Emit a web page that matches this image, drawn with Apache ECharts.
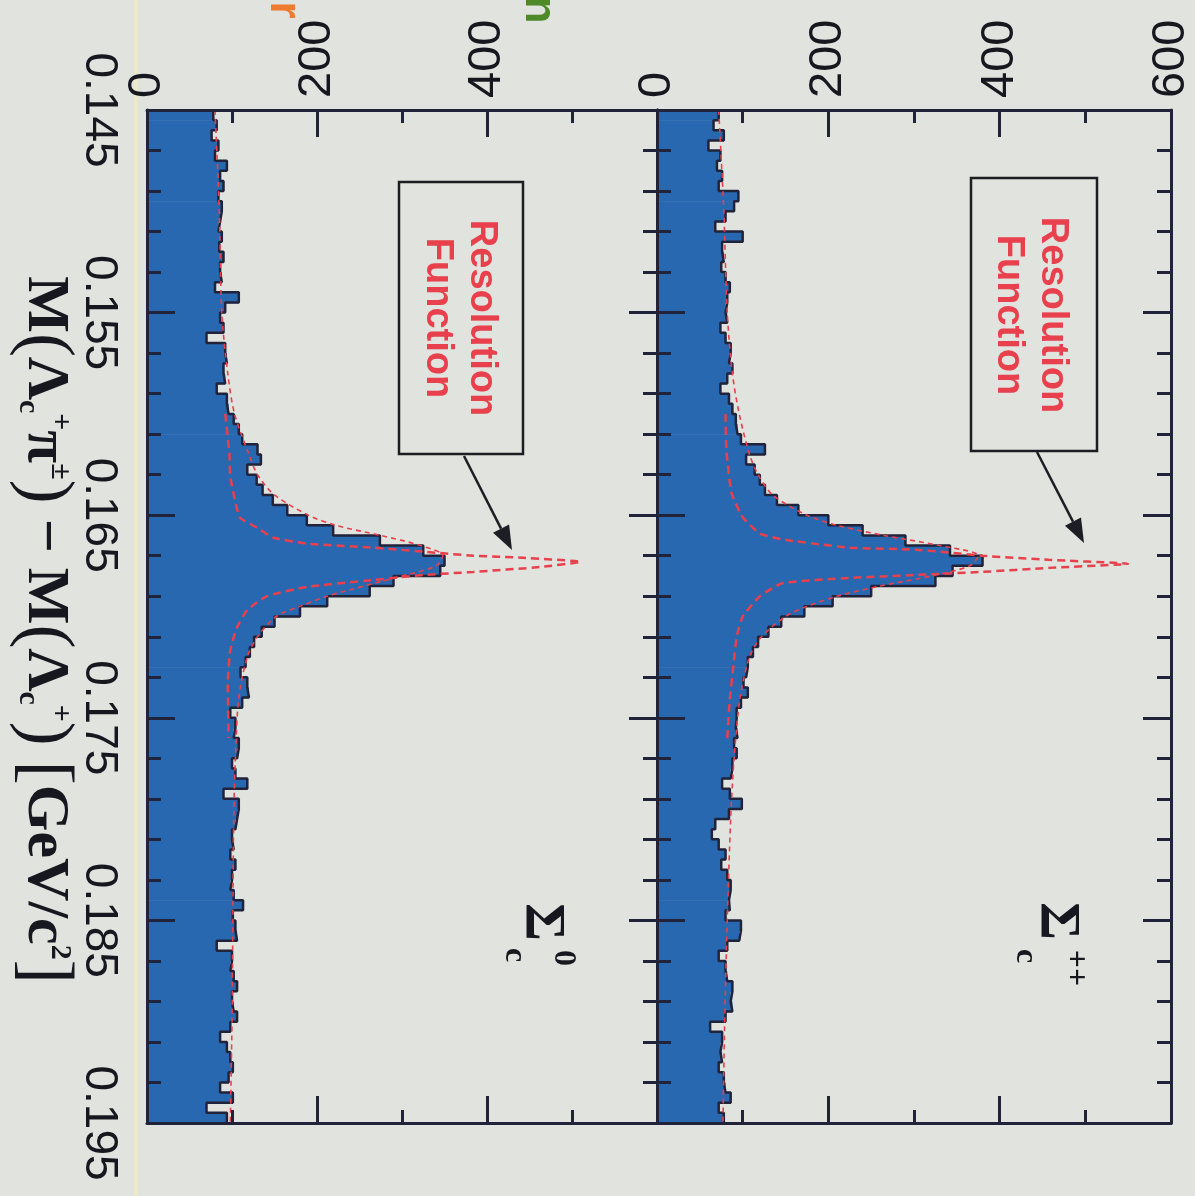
<!DOCTYPE html>
<html><head><meta charset="utf-8">
<script src="https://cdn.jsdelivr.net/npm/echarts@6/dist/echarts.min.js"></script>
<style>html,body{margin:0;padding:0;background:#e0e3de}#c{width:1195px;height:1196px}</style>
</head><body><div id="c"></div>
<script>
// ---- data ----
const massMin = 0.145, massMax = 0.195, binWidth = 0.0005;
const massTickLabels = ['0.145','0.155','0.165','0.175','0.185','0.195'];
const countTickLabels = ['0','200','400','600'];

// Sigma_c^++ histogram (100 bins of 0.5 MeV from 0.145)
const sigmaPPCounts = [
 72,66,78,60,74,70,76,72,95,90,
 80,68,100,76,78,75,80,85,82,80,
 82,74,80,86,84,88,82,74,84,88,
 92,94,98,126,104,114,120,126,140,165,
 200,240,290,342,380,345,325,250,205,172,
 145,130,118,112,106,104,101,106,98,93,
 92,94,90,93,88,86,76,85,99,84,
 68,64,72,80,75,82,86,84,85,80,
 98,96,82,72,80,82,88,86,88,80,
 62,76,74,76,72,78,80,86,72,78];
// Sigma_c^0 histogram
const sigma0Counts = [
 78,82,76,84,80,94,86,90,84,88,
 86,84,88,85,90,86,88,80,108,92,
 86,90,70,92,94,90,92,82,94,96,
 102,108,112,130,134,118,129,136,148,165,
 188,219,274,325,350,345,290,262,212,180,
 150,135,126,121,116,110,118,120,112,98,
 104,102,108,106,100,104,118,90,108,106,
 104,100,102,98,104,100,98,102,113,101,
 104,106,82,100,98,102,106,100,102,106,
 98,86,94,98,101,96,86,101,70,94];

// total fit curves
const fitMass = [0.145,0.150,0.155,0.158,0.160,0.162,0.163,0.164,0.165,0.1655,0.166,0.1665,0.167,0.1675,0.168,0.1685,0.169,0.1695,0.170,0.171,0.172,0.174,0.177,0.180,0.185,0.190,0.195];
const sigmaPPFit = [72,78,82,88,96,108,118,135,175,210,265,330,375,365,320,260,210,175,150,122,108,97,90,86,82,79,77];
const sigma0Fit  = [80,85,88,95,103,120,130,150,190,222,275,322,348,340,300,255,212,180,152,130,118,108,104,102,101,100,98];

// resolution functions
const resPPMass  = [0.1600,0.1618,0.1639,0.1651,0.1659,0.1662,0.1666,0.1667,0.1670,0.1672,0.1674,0.1676,0.1678,0.16795,0.1681,0.16835,0.1690,0.1700,0.1710,0.1725,0.1741,0.1760];
const resPPCount = [80,81,87,100,120,147,224,302,379,457,550,457,379,302,224,147,120,100,93,89,85,82];
const res0Mass   = [0.1600,0.1620,0.1631,0.1651,0.1656,0.1661,0.1664,0.1666,0.1668,0.1670,0.1671,0.1673,0.16756,0.1678,0.16795,0.1682,0.16854,0.1690,0.16968,0.17052,0.17165,0.17328,0.1760];
const res0Count  = [92,97,98,109,129,148,188,266,325,384,442,510,462,384,325,266,188,141,118,106,98,95,96];

// ---- helpers ----
const BLUE = '#2868b0', LINE = '#202339', RED = '#e8404c', INK = '#17181f';
const toAxis = m => (m - massMin) * 1000;
const binData = counts => counts.map((c, i) => [toAxis(massMin + i*binWidth), toAxis(massMin + (i+1)*binWidth), c]);
const outline = counts => { const p = []; counts.forEach((c, i) => { p.push([c, toAxis(massMin + i*binWidth)]); p.push([c, toAxis(massMin + (i+1)*binWidth)]); }); return p; };
const curve = (ms, cs) => ms.map((m, i) => [cs[i], toAxis(m)]);

function renderBins(params, api) {
  const lo = api.value(0), hi = api.value(1), c = api.value(2);
  const a = api.coord([0, lo]), b = api.coord([c, hi]);
  return { type: 'rect', shape: { x: a[0], y: Math.min(a[1], b[1]), width: b[0] - a[0], height: Math.abs(b[1] - a[1]) + 0.7 }, style: { fill: BLUE } };
}

function cAxis(grid, pos, labels, hideMax) {
  return { type: 'value', gridIndex: grid, position: pos, min: 0, max: 600, interval: 200, z: 10,
    axisLine: { show: true, onZero: false, lineStyle: { color: LINE, width: 3 } },
    axisTick: { show: true, inside: true, length: 27, lineStyle: { color: LINE, width: 3 } },
    minorTick: { show: true, splitNumber: 2, length: 13, lineStyle: { color: LINE, width: 3 } },
    splitLine: { show: false }, minorSplitLine: { show: false },
    axisLabel: { show: labels, rotate: -90, margin: 12, fontSize: 47, fontFamily: 'Liberation Sans', color: INK,
      formatter: v => (hideMax && v === 600) ? '' : countTickLabels[Math.round(v / 200)] } };
}
function mAxis(grid, pos, labels) {
  return { type: 'value', gridIndex: grid, position: pos, inverse: true, min: 0, max: 50, interval: 10, z: 10,
    axisLine: { show: true, onZero: false, lineStyle: { color: LINE, width: 3 } },
    axisTick: { show: true, inside: true, length: 28, lineStyle: { color: LINE, width: 3 } },
    minorTick: { show: true, splitNumber: 5, length: 14, lineStyle: { color: LINE, width: 3 } },
    splitLine: { show: false }, minorSplitLine: { show: false },
    axisLabel: { show: labels, rotate: -90, margin: 25, fontSize: 46, fontFamily: 'Liberation Sans', color: INK,
      formatter: v => massTickLabels[Math.round(v / 10)] } };
}

function histSeries(counts, fit, resM, resC, xi, yi) {
  return [
    { type: 'custom', xAxisIndex: xi, yAxisIndex: yi, renderItem: renderBins, encode: { x: 2, y: [0, 1] }, data: binData(counts), z: 2, silent: true },
    { type: 'line', xAxisIndex: xi, yAxisIndex: yi, data: outline(counts), showSymbol: false, lineStyle: { color: LINE, width: 2.5 }, z: 4, silent: true },
    { type: 'line', xAxisIndex: xi, yAxisIndex: yi, data: curve(fitMass, fit), smooth: 0.3, showSymbol: false, lineStyle: { color: RED, width: 1.6, type: [5, 4] }, z: 5, silent: true },
    { type: 'line', xAxisIndex: xi, yAxisIndex: yi, data: curve(resM, resC), smooth: 0.15, showSymbol: false, lineStyle: { color: RED, width: 2.5, type: [8, 5] }, z: 6, silent: true }
  ];
}

function arrow(x1, y1, x2, y2) {
  const dx = x2 - x1, dy = y2 - y1, L = Math.hypot(dx, dy), ux = dx / L, uy = dy / L;
  const hl = 24, hw = 9, bx = x2 - ux * hl, by = y2 - uy * hl;
  return [
    { type: 'line', shape: { x1, y1, x2: bx, y2: by }, style: { stroke: '#1d1d24', lineWidth: 2.5 }, z: 20 },
    { type: 'polygon', shape: { points: [[x2, y2], [bx - uy * hw, by + ux * hw], [bx + uy * hw, by - ux * hw]] }, style: { fill: '#1d1d24' }, z: 20 }
  ];
}
function rtext(x, y, text, font, color, extra) {
  return Object.assign({ type: 'text', x, y, rotation: -Math.PI / 2, z: 20,
    style: Object.assign({ text, font, fill: color, align: 'center', verticalAlign: 'middle', textAlign: 'center', textVerticalAlign: 'middle' }, extra || {}) });
}

const titleRich = {
  m: { fontFamily: 'Liberation Serif', fontWeight: 'bold', fontSize: 60, lineHeight: 62, color: INK },
  p: { fontFamily: 'Liberation Serif', fontSize: 72, lineHeight: 62, color: INK },
  sub: { fontFamily: 'Liberation Serif', fontWeight: 'bold', fontSize: 30, verticalAlign: 'bottom', lineHeight: 30, color: INK },
  sup: { fontFamily: 'Liberation Serif', fontWeight: 'bold', fontSize: 30, verticalAlign: 'top', lineHeight: 30, color: INK }
};
const titleText = '{m|M}{p|(}{m|Λ}{sub|c}{sup|+}{m|π}{sup|±}{p|)}{m| − M}{p|(}{m|Λ}{sub|c}{sup|+}{p|)}{m| }{p|[}{m|GeV/c}{sup|2}{p|]}';

const chart = echarts.init(document.getElementById('c'), null, { renderer: 'canvas' });
chart.setOption({
  backgroundColor: '#e0e3de',
  animation: false,
  grid: [
    { left: 147, top: 110, width: 510, height: 1013 },
    { left: 657, top: 110, width: 514, height: 1013 }
  ],
  xAxis: [cAxis(0, 'top', true, true), cAxis(0, 'bottom', false), cAxis(1, 'top', true, false), cAxis(1, 'bottom', false)],
  yAxis: [mAxis(0, 'left', true), mAxis(0, 'right', false), mAxis(1, 'left', false), mAxis(1, 'right', false)],
  series: [].concat(
    histSeries(sigma0Counts, sigma0Fit, res0Mass, res0Count, 0, 0),
    histSeries(sigmaPPCounts, sigmaPPFit, resPPMass, resPPCount, 2, 2)
  ),
  graphic: [
    { type: 'rect', shape: { x: 134, y: 0, width: 4, height: 1196 }, style: { fill: '#ebe9c6' }, z: 1 },
    rtext(283, 10, 'r', 'bold 44px "Liberation Sans"', '#f07a30'),
    rtext(538, 10, 'n', 'bold 44px "Liberation Sans"', '#4f8a2a'),
    rtext(44, 630, titleText, 'bold 60px "Liberation Serif"', INK, { rich: titleRich }),
    // boxes
    { type: 'rect', shape: { x: 399, y: 182, width: 124, height: 272 }, style: { fill: 'none', stroke: '#1d1d24', lineWidth: 2.5 }, z: 20 },
    { type: 'rect', shape: { x: 971, y: 178, width: 126, height: 273 }, style: { fill: 'none', stroke: '#1d1d24', lineWidth: 2.5 }, z: 20 },
    rtext(459, 318, 'Resolution\nFunction', 'bold 38px "Liberation Sans"', RED, { lineHeight: 44 }),
    rtext(1030, 315, 'Resolution\nFunction', 'bold 38px "Liberation Sans"', RED, { lineHeight: 44 }),
    ...arrow(464, 456, 512, 550),
    ...arrow(1037, 452, 1084, 543),
    // Sigma labels
    rtext(541, 922, 'Σ', 'bold 58px "Liberation Serif"', INK),
    rtext(514, 955, 'c', 'bold 32px "Liberation Serif"', INK),
    rtext(563, 958, '0', 'bold 32px "Liberation Serif"', INK),
    rtext(1056, 921, 'Σ', 'bold 58px "Liberation Serif"', INK),
    rtext(1025, 956, 'c', 'bold 32px "Liberation Serif"', INK),
    rtext(1075, 968, '++', 'bold 32px "Liberation Serif"', INK)
  ]
});
</script></body></html>
